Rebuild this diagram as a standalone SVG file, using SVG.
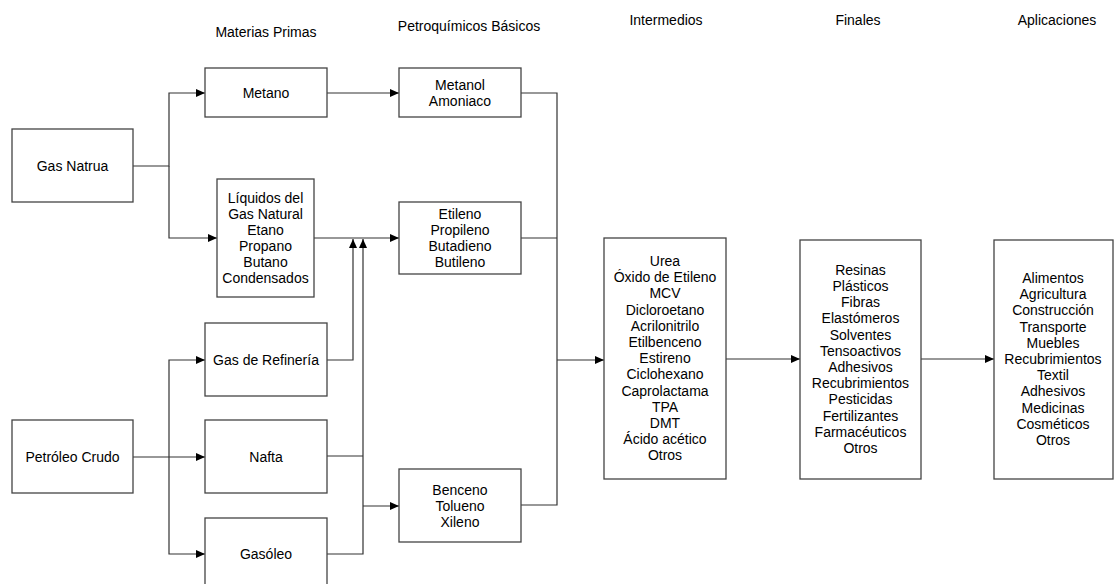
<svg xmlns="http://www.w3.org/2000/svg" width="1114" height="584" viewBox="0 0 1114 584">
  <defs>
    <marker id="arrow" viewBox="0 0 9 8" refX="9" refY="4" markerWidth="9" markerHeight="8" markerUnits="userSpaceOnUse" orient="auto">
      <path d="M0,0 L9,4 L0,8 z" fill="#000"/>
    </marker>
    <style>
      .box { fill: #fff; stroke: #444; stroke-width: 1.3; }
      .wire { fill: none; stroke: #333; stroke-width: 1.2; }
      .arr { marker-end: url(#arrow); }
      text { font-family: "Liberation Sans", Arial, sans-serif; font-size: 14px; fill: #000; text-anchor: middle; }
    </style>
  </defs>
  <rect width="1114" height="584" fill="#fff"/>

  <!-- column headings -->
  <g id="headings">
    <text x="266" y="37">Materias Primas</text>
    <text x="469" y="31">Petroquímicos Básicos</text>
    <text x="666" y="25">Intermedios</text>
    <text x="858" y="25">Finales</text>
    <text x="1057" y="25">Aplicaciones</text>
  </g>

  <!-- connectors -->
  <g id="connectors">
    <path class="wire arr" d="M133,166 H169 V93 H205"/>
    <path class="wire arr" d="M169,166 V238 H217"/>
    <path class="wire arr" d="M327,93 H399"/>
    <path class="wire arr" d="M314,238 H399"/>
    <path class="wire arr" d="M327,360 H353 V239"/>
    <path class="wire" d="M327,456 H363"/>
    <path class="wire arr" d="M327,554 H363 V239"/>
    <path class="wire arr" d="M363,506 H399"/>
    <path class="wire arr" d="M133,457 H205"/>
    <path class="wire arr" d="M169,457 V360 H205"/>
    <path class="wire arr" d="M169,457 V554 H205"/>
    <path class="wire" d="M521,93 H557 V505 H521"/>
    <path class="wire" d="M521,238 H557"/>
    <path class="wire arr" d="M557,360 H604"/>
    <path class="wire arr" d="M726,359 H800"/>
    <path class="wire arr" d="M921,359 H994"/>
  </g>

  <g id="gas-natural">
    <rect class="box" x="12" y="129" width="121" height="73"/>
    <text x="72.5" y="171">Gas Natrua</text>
  </g>
  <g id="petroleo-crudo">
    <rect class="box" x="12" y="420" width="121" height="73"/>
    <text x="72.5" y="462">Petróleo Crudo</text>
  </g>
  <g id="metano">
    <rect class="box" x="205" y="68" width="122" height="49"/>
    <text x="266" y="98">Metano</text>
  </g>
  <g id="liquidos">
    <rect class="box" x="217" y="179" width="97" height="118"/>
    <text x="265.5" y="203">Líquidos del</text>
    <text x="265.5" y="219">Gas Natural</text>
    <text x="265.5" y="235">Etano</text>
    <text x="265.5" y="251">Propano</text>
    <text x="265.5" y="267">Butano</text>
    <text x="265.5" y="283">Condensados</text>
  </g>
  <g id="gas-refineria">
    <rect class="box" x="205" y="323" width="122" height="73"/>
    <text x="266" y="365">Gas de Refinería</text>
  </g>
  <g id="nafta">
    <rect class="box" x="205" y="420" width="122" height="73"/>
    <text x="266" y="462">Nafta</text>
  </g>
  <g id="gasoleo">
    <rect class="box" x="205" y="518" width="122" height="73"/>
    <text x="266" y="559">Gasóleo</text>
  </g>
  <g id="metanol">
    <rect class="box" x="399" y="68" width="122" height="49"/>
    <text x="460" y="89.5">Metanol</text>
    <text x="460" y="105.5">Amoniaco</text>
  </g>
  <g id="olefinas">
    <rect class="box" x="399" y="202" width="122" height="72"/>
    <text x="460" y="219">Etileno</text>
    <text x="460" y="235">Propileno</text>
    <text x="460" y="251">Butadieno</text>
    <text x="460" y="267">Butileno</text>
  </g>
  <g id="aromaticos">
    <rect class="box" x="399" y="469" width="122" height="73"/>
    <text x="460" y="494.5">Benceno</text>
    <text x="460" y="510.5">Tolueno</text>
    <text x="460" y="526.5">Xileno</text>
  </g>
  <g id="intermedios">
    <rect class="box" x="604" y="238" width="122" height="241"/>
    <text x="665" y="266">Urea</text>
    <text x="665" y="282.2">Óxido de Etileno</text>
    <text x="665" y="298.4">MCV</text>
    <text x="665" y="314.6">Dicloroetano</text>
    <text x="665" y="330.8">Acrilonitrilo</text>
    <text x="665" y="347">Etilbenceno</text>
    <text x="665" y="363.2">Estireno</text>
    <text x="665" y="379.4">Ciclohexano</text>
    <text x="665" y="395.6">Caprolactama</text>
    <text x="665" y="411.8">TPA</text>
    <text x="665" y="428">DMT</text>
    <text x="665" y="444.2">Ácido acético</text>
    <text x="665" y="460.4">Otros</text>
  </g>
  <g id="finales">
    <rect class="box" x="800" y="240" width="121" height="239"/>
    <text x="860.5" y="274.7">Resinas</text>
    <text x="860.5" y="290.9">Plásticos</text>
    <text x="860.5" y="307.1">Fibras</text>
    <text x="860.5" y="323.3">Elastómeros</text>
    <text x="860.5" y="339.5">Solventes</text>
    <text x="860.5" y="355.7">Tensoactivos</text>
    <text x="860.5" y="371.9">Adhesivos</text>
    <text x="860.5" y="388.1">Recubrimientos</text>
    <text x="860.5" y="404.3">Pesticidas</text>
    <text x="860.5" y="420.5">Fertilizantes</text>
    <text x="860.5" y="436.7">Farmacéuticos</text>
    <text x="860.5" y="452.9">Otros</text>
  </g>
  <g id="aplicaciones">
    <rect class="box" x="994" y="240" width="119" height="239"/>
    <text x="1053" y="283">Alimentos</text>
    <text x="1053" y="299.2">Agricultura</text>
    <text x="1053" y="315.4">Construcción</text>
    <text x="1053" y="331.6">Transporte</text>
    <text x="1053" y="347.8">Muebles</text>
    <text x="1053" y="364">Recubrimientos</text>
    <text x="1053" y="380.2">Textil</text>
    <text x="1053" y="396.4">Adhesivos</text>
    <text x="1053" y="412.6">Medicinas</text>
    <text x="1053" y="428.8">Cosméticos</text>
    <text x="1053" y="445">Otros</text>
  </g>
</svg>
